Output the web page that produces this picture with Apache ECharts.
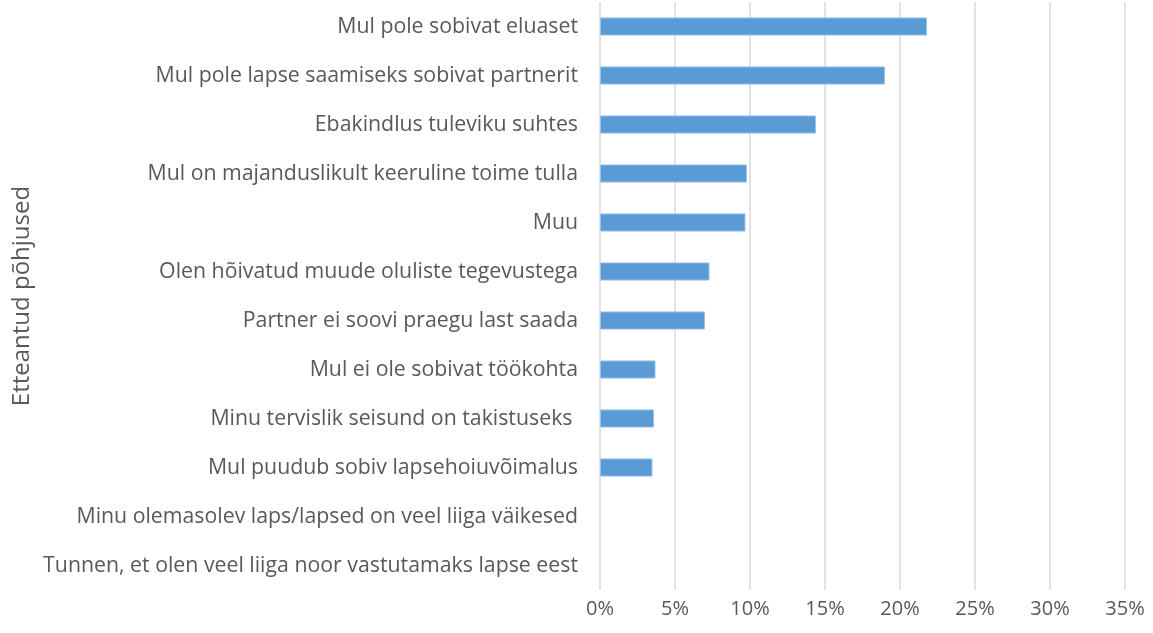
<!DOCTYPE html>
<html>
<head>
<meta charset="utf-8">
<script src="https://cdn.jsdelivr.net/npm/echarts@6/dist/echarts.min.js"></script>
<style>
html,body{margin:0;padding:0;background:#fff;}
#chart{width:1153px;height:633px;}
</style>
</head>
<body>
<div id="chart"></div>
<script>
const categories = [
  "Mul pole sobivat eluaset",
  "Mul pole lapse saamiseks sobivat partnerit",
  "Ebakindlus tuleviku suhtes",
  "Mul on majanduslikult keeruline toime tulla",
  "Muu",
  "Olen hõivatud muude oluliste tegevustega",
  "Partner ei soovi praegu last saada",
  "Mul ei ole sobivat töökohta",
  "Minu tervislik seisund on takistuseks ",
  "Mul puudub sobiv lapsehoiuvõimalus",
  "Minu olemasolev laps/lapsed on veel liiga väikesed",
  "Tunnen, et olen veel liiga noor vastutamaks lapse eest"
];
const values = [21.8, 19.0, 14.4, 9.8, 9.7, 7.3, 7.0, 3.7, 3.6, 3.5, 0, 0];
const yAxisName = "Etteantud põhjused";

const chart = echarts.init(document.getElementById('chart'));
const font = "'Open Sans', sans-serif";
const barData = values.map(v => v === 0 ? {value: v, itemStyle: {borderWidth: 0}} : v);
chart.setOption({
  animation: false,
  grid: {left: 600, right: 28, top: 2, bottom: 43, containLabel: false},
  xAxis: {
    type: 'value', min: 0, max: 35, interval: 5,
    axisLine: {show: false}, axisTick: {show: false},
    axisLabel: {formatter: '{value}%', color: '#595959', fontSize: 20, fontFamily: font, margin: 9},
    splitLine: {show: true, lineStyle: {color: '#d9d9d9', width: 1.5}}
  },
  yAxis: {
    type: 'category', data: categories, inverse: true,
    axisLine: {show: false}, axisTick: {show: false},
    axisLabel: {color: '#595959', fontSize: 21.3, fontFamily: font, margin: 22},
    name: yAxisName, nameLocation: 'middle', nameRotate: 90, nameGap: 566,
    nameTextStyle: {color: '#595959', fontSize: 24, fontFamily: font}
  },
  series: [{
    type: 'bar', data: barData, barCategoryGap: '63%',
    itemStyle: {color: '#5b9bd5', borderColor: '#9cc2e5', borderWidth: 1}
  }]
});
</script>
</body>
</html>
